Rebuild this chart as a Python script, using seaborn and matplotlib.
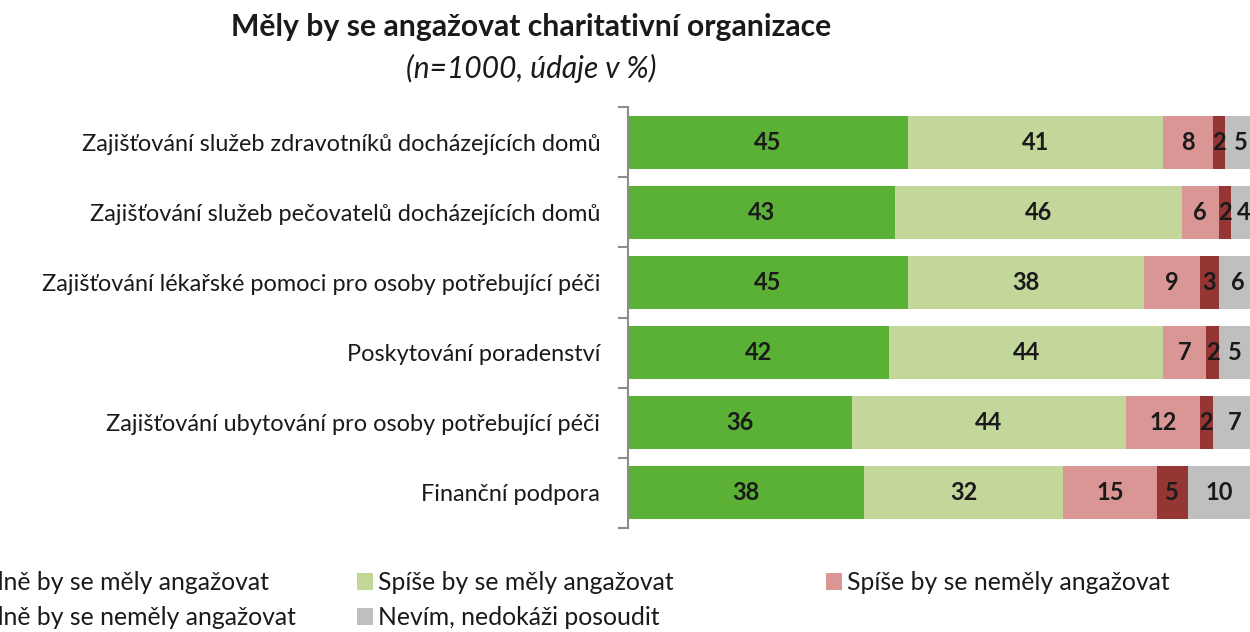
import numpy as np
import pandas as pd
import matplotlib.pyplot as plt
import seaborn as sns
from matplotlib.patches import Patch

# data
categories = [
    "Zajišťování služeb zdravotníků docházejících domů",
    "Zajišťování služeb pečovatelů docházejících domů",
    "Zajišťování lékařské pomoci pro osoby potřebující péči",
    "Poskytování poradenství",
    "Zajišťování ubytování pro osoby potřebující péči",
    "Finanční podpora",
]
series_names = [
    "Rozhodně by se měly angažovat",
    "Spíše by se měly angažovat",
    "Spíše by se neměly angažovat",
    "Rozhodně by se neměly angažovat",
    "Nevím, nedokáži posoudit",
]
rozhodne_ano = [45, 43, 45, 42, 36, 38]
spise_ano = [41, 46, 38, 44, 44, 32]
spise_ne = [8, 6, 9, 7, 12, 15]
rozhodne_ne = [2, 2, 3, 2, 2, 5]
nevim = [5, 4, 6, 5, 7, 10]
colors = ["#5BB135", "#C4D79B", "#DA9694", "#963634", "#BFBFBF"]

sns.set_theme(style="white")
plt.rcParams['font.family'] = ['Lato', 'DejaVu Sans']

df = pd.DataFrame(dict(zip(series_names,
                           [rozhodne_ano, spise_ano, spise_ne, rozhodne_ne, nevim])),
                  index=categories)
cum = df.cumsum(axis=1)

fig = plt.figure(figsize=(12.5, 6.32), dpi=100)
ax = fig.add_axes([628 / 1250, 1 - 528 / 632, 1 - 628 / 1250, 421 / 632])

# stacked bars: draw cumulative totals from the right-most segment backwards
for name, col in reversed(list(zip(series_names, colors))):
    sns.barplot(x=cum[name].values, y=categories, order=categories, orient="h",
                color=col, saturation=1, width=0.755, linewidth=0, ax=ax)

# value labels in the middle of each segment
for i, cat in enumerate(categories):
    left = 0
    for name in series_names:
        v = df.loc[cat, name]
        ax.text(left + v / 2, i, str(v), ha="center", va="center",
                fontsize=17, fontweight="bold", color="#1a1a1a")
        left += v

ax.set_xlim(0, 100)
ax.set_ylim(5.5, -0.5)
ax.set_xlabel("")
ax.set_ylabel("")
ax.set_xticks([])
ax.set_yticks(np.arange(-0.5, 6, 1), minor=True)
ax.tick_params(axis="y", which="major", left=False, length=0, pad=20,
               labelsize=16.9, labelcolor="#1a1a1a")
ax.tick_params(axis="y", which="minor", left=True, length=7, width=1.5,
               color="#8c8c8c", direction="out")
for s in ["top", "right", "bottom"]:
    ax.spines[s].set_visible(False)
ax.spines["left"].set_color("#8c8c8c")
ax.spines["left"].set_linewidth(1.5)

fig.text(0.425, 1 - 27 / 632, "Měly by se angažovat charitativní organizace",
         ha="center", va="center", fontsize=21.7, fontweight="bold", color="#1a1a1a")
fig.text(0.425, 1 - 68 / 632, "(n=1000, údaje v %)",
         ha="center", va="center", fontsize=21.5, fontstyle="italic", color="#1a1a1a")

# legend laid out in three columns like the original
handles = [Patch(facecolor=c, edgecolor="none") for c in colors]
columns = [([0, 3], -100), ([1, 4], 357), ([2], 826)]
for idx, xpx in columns:
    leg = fig.legend([handles[k] for k in idx], [series_names[k] for k in idx],
                     loc="upper left", bbox_to_anchor=(xpx / 1250, 1 - 571 / 632),
                     frameon=False, fontsize=17.8, borderpad=0, borderaxespad=0,
                     handlelength=0.65, handleheight=0.65, handletextpad=0.2,
                     labelspacing=0.5)
    for t in leg.get_texts():
        t.set_color("#1a1a1a")

fig.savefig("out.png", dpi=100)
